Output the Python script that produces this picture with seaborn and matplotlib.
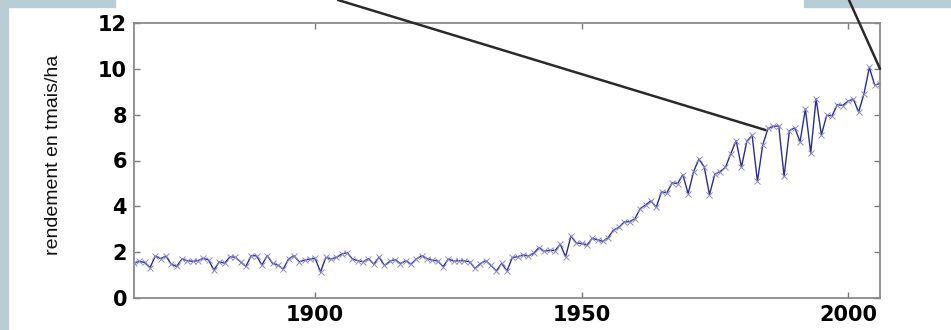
import numpy as np
import matplotlib
matplotlib.use("Agg")
import matplotlib.pyplot as plt
from matplotlib.patches import Rectangle
import seaborn as sns

# yield series, t/ha, one value per year from 1866 to 2006
years = np.arange(1866, 2007)
yields_1866_1904 = [1.52, 1.60, 1.55, 1.32, 1.83, 1.72, 1.83, 1.47, 1.38, 1.70,
                    1.63, 1.60, 1.63, 1.73, 1.66, 1.22, 1.58, 1.52, 1.80, 1.78,
                    1.58, 1.38, 1.85, 1.84, 1.44, 1.85, 1.51, 1.44, 1.26, 1.70,
                    1.85, 1.58, 1.65, 1.70, 1.73, 1.13, 1.77, 1.70, 1.77]
yields_1905_1945 = [1.92, 1.98, 1.70, 1.63, 1.58, 1.72, 1.48, 1.78, 1.42, 1.60,
                    1.68, 1.50, 1.63, 1.48, 1.70, 1.85, 1.72, 1.65, 1.62, 1.37,
                    1.70, 1.61, 1.63, 1.62, 1.58, 1.29, 1.50, 1.63, 1.42, 1.18,
                    1.51, 1.18, 1.77, 1.80, 1.88, 1.83, 1.95, 2.20, 2.04, 2.08,
                    2.07]
yields_1946_2006 = [2.34, 1.80, 2.70, 2.40, 2.38, 2.31, 2.60, 2.54, 2.47, 2.64,
                    2.97, 3.08, 3.32, 3.33, 3.46, 3.90, 4.06, 4.24, 3.96, 4.63,
                    4.59, 5.03, 4.99, 5.38, 4.55, 5.50, 6.06, 5.73, 4.51, 5.40,
                    5.52, 5.70, 6.30, 6.87, 5.71, 6.83, 7.10, 5.09, 6.69, 7.40,
                    7.49, 7.51, 5.31, 7.30, 7.43, 6.82, 8.25, 6.32, 8.70, 7.12,
                    7.97, 7.95, 8.44, 8.40, 8.59, 8.67, 8.12, 8.92, 10.06, 9.29,
                    9.36]
yields = yields_1866_1904 + yields_1905_1945 + yields_1946_2006

y_ticks = [0, 2, 4, 6, 8, 10, 12]
x_ticks = [1900, 1950, 2000]
y_label = "rendement en tmais/ha"

# callout lines coming from boxes above the figure: (year, value) targets
callout_targets = [(1984.5, 7.33), (2006, 10.0)]
callout_starts = [(338 / 951, 1.0), (849 / 951, 1.0)]

sns.set_style("ticks")
plt.rcParams["font.family"] = ["DejaVu Sans"]

fig = plt.figure(figsize=(9.51, 3.30), dpi=100)
fig.patch.set_facecolor("white")
ax = fig.add_axes([134 / 951, 32 / 330, 746 / 951, 275 / 330])

# slide background strips
strip = "#b9cdd6"
fig.add_artist(Rectangle((0, 0), 8 / 951, 1, transform=fig.transFigure, color=strip, zorder=0))
fig.add_artist(Rectangle((0, 1 - 7 / 330), 115 / 951, 7 / 330, transform=fig.transFigure, color=strip, zorder=0))
fig.add_artist(Rectangle((804 / 951, 1 - 7 / 330), 147 / 951, 7 / 330, transform=fig.transFigure, color=strip, zorder=0))

sns.lineplot(x=years, y=yields, ax=ax, color="#2c2c96", linewidth=1.0,
             marker="x", markersize=4, markeredgewidth=0.7,
             markeredgecolor="#8c8cc8", markerfacecolor="none")

ax.set_xlim(1866, 2006)
ax.set_ylim(0, 12)
ax.set_xticks(x_ticks)
ax.set_yticks(y_ticks)
ax.set_xlabel("")
ax.set_ylabel(y_label, fontsize=14, family=["Liberation Sans", "DejaVu Sans"], color="#111111")
ax.yaxis.set_label_coords(-0.097, 0.52)

for side in ["left", "right", "top", "bottom"]:
    ax.spines[side].set_visible(True)
    ax.spines[side].set_color("#8a8a8a")
    ax.spines[side].set_linewidth(1.3)

ax.tick_params(direction="in", top=True, right=True, length=4, width=1,
               color="#7a7a7a", labelsize=15, labelcolor="black", pad=5)
for lbl in ax.get_xticklabels() + ax.get_yticklabels():
    lbl.set_fontweight("bold")

for target, start in zip(callout_targets, callout_starts):
    ax.annotate("", xy=target, xycoords="data",
                xytext=start, textcoords="figure fraction",
                arrowprops=dict(arrowstyle="-", color="#2a2a2a", lw=1.8, shrinkA=0, shrinkB=0),
                annotation_clip=False)

fig.savefig("out.png", dpi=100)
